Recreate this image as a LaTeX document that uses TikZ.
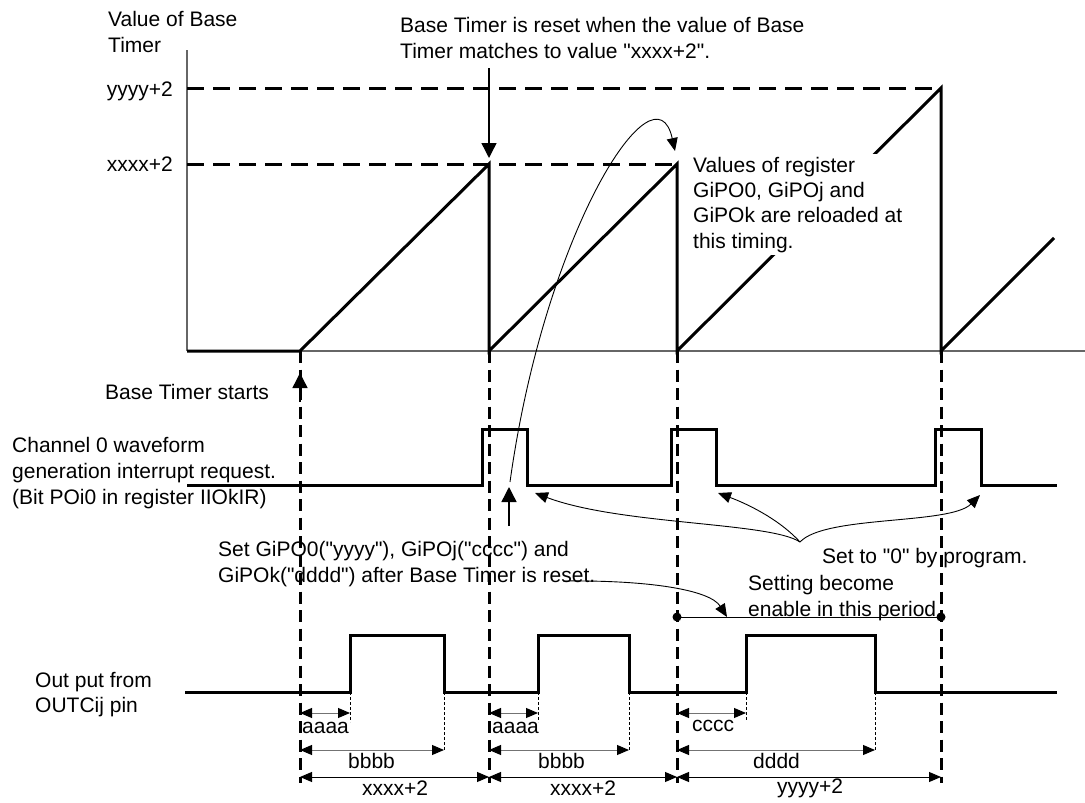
\documentclass[tikz,border=0pt]{standalone}
\usepackage{fontspec}
\setmainfont{Liberation Sans}[Ligatures=TeXOff]
\usetikzlibrary{arrows.meta}
\begin{document}
\begin{tikzpicture}[x=1pt,y=-1pt,
  txt/.style={font=\fontsize{21}{26}\selectfont, inner sep=0pt, align=left, anchor=base west},
  wave/.style={line width=3pt, line join=miter},
  axisline/.style={line width=1.5pt, black!60},
  hdash/.style={line width=3pt, dash pattern=on 17pt off 9pt},
  vdash/.style={line width=3pt, dash pattern=on 12pt off 6.5pt},
  thinarrow/.style={line width=0.9pt, -{Triangle[length=13pt,width=11pt]}},
  bigarrow/.style={line width=1.4pt, -{Triangle[length=15pt,width=15pt]}},
  dimline/.style={line width=0.9pt, {Triangle[length=12pt,width=10pt,color=black]}-{Triangle[length=12pt,width=10pt,color=black]}},
  ext/.style={line width=0.8pt, dash pattern=on 3pt off 2pt}]
\useasboundingbox (0,0) rectangle (1085,803);
\fill[white] (0,0) rectangle (1085,803);

% axes
\draw[axisline] (187,50) -- (187,351);
\draw[axisline] (187,351) -- (1085,351);

% reference levels
\draw[hdash] (187,88) -- (941,88);
\draw[hdash] (187,164) -- (677,164);

% base timer ramp
\draw[wave] (187,351) -- (300,351) -- (489,164) -- (489,351) -- (677,164) -- (677,351)
  -- (941,88) -- (941,351) -- (1054,238);

% labels top (anchor = baseline of last line)
\node[txt] (ylabel) at (108,52) {Value of Base\\Timer};
\node[txt, anchor=base east] (yy) at (173,96) {yyyy+2};
\node[txt, anchor=base east] (xx) at (173,171) {xxxx+2};
\node[txt] (resetnote) at (400,58) {Base Timer is reset when the value of Base\\Timer matches to value "xxxx+2".};
\node[txt, fill=white, inner xsep=3pt, inner ysep=3pt, font=\fontsize{21}{25.3}\selectfont] (reload) at (690,248)
  {Values of register\\GiPO0, GiPOj and\\GiPOk are reloaded at\\this timing.};

% vertical dashed markers
\draw[vdash] (300,351) -- (300,783);
\draw[vdash] (489,351) -- (489,783);
\draw[vdash] (677,351) -- (677,783);
\draw[vdash] (941,351) -- (941,783);

% reset arrow
\coordinate (rtail) at (489,68);
\coordinate (rtip) at (489,158);
\draw[bigarrow] (rtail) -- (rtip);

% base timer starts
\node[txt] (starts) at (105,399) {Base Timer starts};
\coordinate (stail) at (300,402);
\coordinate (stip) at (300,373);
\draw[bigarrow] (stail) -- (stip);

% channel 0 interrupt request
\node[txt] (ch0) at (12,504) {Channel 0 waveform\\generation interrupt request.\\(Bit POi0 in register IIOkIR)};
\draw[wave] (187,485) -- (482,485) -- (482,429) -- (527,429) -- (527,485) -- (671,485)
  -- (671,429) -- (716,429) -- (716,485) -- (935,485) -- (935,429) -- (981,429)
  -- (981,485) -- (1057,485);

% set arrow
\coordinate (settail) at (509,526);
\coordinate (settip) at (509,487);
\draw[bigarrow] (settail) -- (settip);
\coordinate (reloadstart) at (510,482);
\coordinate (reloadtip) at (675,151);
\draw[thinarrow] (reloadstart) .. controls (545,230) and (655,60) .. (reloadtip);

\node[txt] (setnote) at (218,582) {Set GiPO0("yyyy"), GiPOj("cccc") and\\GiPOk("dddd") after Base Timer is reset.};

% set to 0 by program
\node[txt] (zeronote) at (822,563) {Set to "0" by program.};
\coordinate (J) at (800,542);
\coordinate (z1) at (535,493);
\coordinate (z2) at (718,493);
\coordinate (z3) at (980,495);
\draw[thinarrow] (J) .. controls (770,522) and (620,525) .. (z1);
\draw[thinarrow] (J) .. controls (778,518) and (745,503) .. (z2);
\draw[thinarrow] (J) .. controls (825,515) and (950,525) .. (z3);

% setting enable period
\node[txt] (enable) at (748,616) {Setting become\\enable in this period.};
\coordinate (en1) at (563,581);
\coordinate (en2) at (727,617);
\draw[thinarrow] (en1) .. controls (650,580) and (710,590) .. (en2);
\coordinate (p1) at (677,617);
\coordinate (p2) at (941,617);
\draw[line width=0.9pt] (p1) -- (p2);
\fill (p1) circle (4.5);
\fill (p2) circle (4.5);

% output
\node[txt, font=\fontsize{21}{25}\selectfont] (outlbl) at (35,712) {Out put from\\OUTCij pin};
\draw[wave] (185,692) -- (350,692) -- (350,635) -- (444,635) -- (444,692) -- (538,692)
  -- (538,635) -- (629,635) -- (629,692) -- (746,692) -- (746,635) -- (875,635)
  -- (875,692) -- (1057,692);

% extension lines
\draw[ext] (350,692) -- (350,722);
\draw[ext] (444,692) -- (444,750);
\draw[ext] (538,692) -- (538,722);
\draw[ext] (629,692) -- (629,750);
\draw[ext] (746,692) -- (746,720);
\draw[ext] (875,692) -- (875,750);

% dimensions
\draw[dimline, black!55] (300,713) -- (350,713);
\draw[dimline, black!55] (489,713) -- (538,713);
\draw[dimline, black!55] (677,713) -- (746,713);
\draw[dimline, black!55] (300,750) -- (444,750);
\draw[dimline, black!55] (489,750) -- (629,750);
\draw[dimline, black!55] (677,750) -- (875,750);
\draw[dimline] (300,777) -- (489,777);
\draw[dimline] (489,777) -- (677,777);
\draw[dimline] (677,777) -- (941,777);

\node[txt] (a1) at (302,733) {aaaa};
\node[txt] (a2) at (492,733) {aaaa};
\node[txt] (c1) at (692,731) {cccc};
\node[txt] (b1) at (348,768) {bbbb};
\node[txt] (b2) at (538,768) {bbbb};
\node[txt] (d1) at (753,768) {dddd};
\node[txt] (x1) at (362,795) {xxxx+2};
\node[txt] (x2) at (550,795) {xxxx+2};
\node[txt] (y1) at (777,793) {yyyy+2};
\end{tikzpicture}
\end{document}
